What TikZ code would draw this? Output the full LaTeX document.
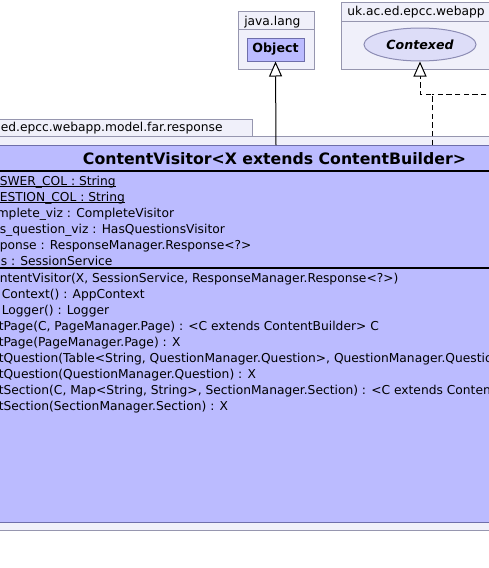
\documentclass[tikz,border=0pt]{standalone}
\usepackage{fontspec}
\setmainfont{DejaVu Sans}
\usetikzlibrary{arrows.meta,shapes.geometric}
\definecolor{pkgfill}{RGB}{240,240,250}
\definecolor{pkgline}{RGB}{150,150,175}
\definecolor{clsfill}{RGB}{187,187,255}
\definecolor{clsline}{RGB}{110,110,170}
\definecolor{ifcfill}{RGB}{221,221,248}
\definecolor{ifcline}{RGB}{140,140,180}
\tikzset{
  pkg/.style={fill=pkgfill,draw=pkgline,line width=0.75pt},
  member/.style={anchor=base west,inner sep=0pt,font=\fontsize{9.2pt}{11pt}\selectfont},
  pkglabel/.style={anchor=base west,inner sep=0pt,font=\fontsize{9.2pt}{11pt}\selectfont},
  sep/.style={line width=1.5pt,black},
  inherit/.style={line width=0.75pt,-{Triangle[open,length=11.25pt,width=9.75pt,fill=white]}},
  realize/.style={line width=0.75pt,dash pattern=on 4pt off 2.5pt},
  uline/.style={line width=0.75pt}
}
\begin{document}
\begin{tikzpicture}[x=0.75pt,y=-0.75pt]
\useasboundingbox (0,0) rectangle (489,568);
\clip (0,0) rectangle (489,568);
\fill[white] (0,0) rectangle (489,568);
% packages at top
\draw[pkg] (238,11) rectangle (314,69);
\draw[pkgline,line width=0.75pt] (238,29) -- (314,29);
\node[pkglabel] (jl) at (244,25) {java.lang};
\draw[pkg] (341,2) rectangle (495,69);
\draw[pkgline,line width=0.75pt] (341,21) -- (495,21);
\node[pkglabel] (uk) at (347,15) {uk.ac.ed.epcc.webapp};
% Object
\node[draw=clsline,fill=clsfill,line width=0.75pt,minimum width=57*0.75pt,minimum height=23*0.75pt,inner sep=0pt,font=\bfseries\fontsize{9.45pt}{11pt}\selectfont] (obj) at (275.5,49.5) {Object};
% Contexed
\node[ellipse,draw=ifcline,fill=ifcfill,line width=0.75pt,minimum width=112*0.75pt,minimum height=33*0.75pt,inner sep=0pt,font=\bfseries\itshape\fontsize{9.45pt}{11pt}\selectfont] (ctx) at (420,44.5) {Contexed};
% response package
\draw[pkg] (-5,119) rectangle (252,136);
\draw[pkg] (-5,136) rectangle (495,530);
\node[pkglabel] (rp) at (0.5,131) {ed.epcc.webapp.model.far.response};
% class box
\draw[fill=clsfill,draw=clsline,line width=0.75pt] (-5,145) rectangle (495,522);
\coordinate (cvA) at (276,145);
\coordinate (cvB) at (432,145);
\coordinate (jn) at (432,94);
\coordinate (bend) at (420,94);
\coordinate (offr) at (495,94);
\node[anchor=base,inner sep=0pt,font=\bfseries\fontsize{11.8pt}{14pt}\selectfont] (title) at (274.5,164.3) {ContentVisitor<X extends ContentBuilder>};
\draw[sep] (-5,171) -- (495,171);
\draw[sep] (-5,268) -- (495,268);
% attributes
\node[member] (a1) at (-0.5,185) {SWER\_COL : String};
\node[member] (a2) at (-0.5,201) {ESTION\_COL : String};
\node[member] (a3) at (-3.5,217) {mplete\_viz : CompleteVisitor};
\node[member] (a4) at (-0.5,233) {s\_question\_viz : HasQuestionsVisitor};
\node[member] (a5) at (-0.5,249) {ponse : ResponseManager.Response<?>};
\node[member] (a6) at (0.5,265) {s : SessionService};
\draw[uline] ([yshift=-1.3pt]a1.base west) -- ([yshift=-1.3pt]a1.base east);
\draw[uline] ([yshift=-1.3pt]a2.base west) -- ([yshift=-1.3pt]a2.base east);
% methods
\node[member] (m1) at (-0.5,282.5) {ntentVisitor(X, SessionService, ResponseManager.Response<?>)};
\node[member] (m2) at (1.5,298.5) {Context() : AppContext};
\node[member] (m3) at (1.5,314.5) {Logger() : Logger};
\node[member] (m4) at (-1.5,330.5) {tPage(C, PageManager.Page) : <C extends ContentBuilder> C};
\node[member] (m5) at (-1.5,346.5) {tPage(PageManager.Page) : X};
\node[member] (m6) at (-1.5,362.5) {tQuestion(Table<String, QuestionManager.Question>, QuestionManager.Question};
\node[member] (m7) at (-1.5,378.5) {tQuestion(QuestionManager.Question) : X};
\node[member] (m8) at (-1.5,394.5) {tSection(C, Map<String, String>, SectionManager.Section) : <C extends ContentBuilder>};
\node[member] (m9) at (-1.5,410.5) {tSection(SectionManager.Section) : X};
% connectors
\draw[inherit] (cvA) -- (obj.south);
\draw[realize] (offr) -- (jn);
\draw[realize,-{Triangle[open,length=11.25pt,width=9.75pt,fill=white]}] (cvB) -- (jn) -- (bend) -- (ctx.south);
\end{tikzpicture}
\end{document}
